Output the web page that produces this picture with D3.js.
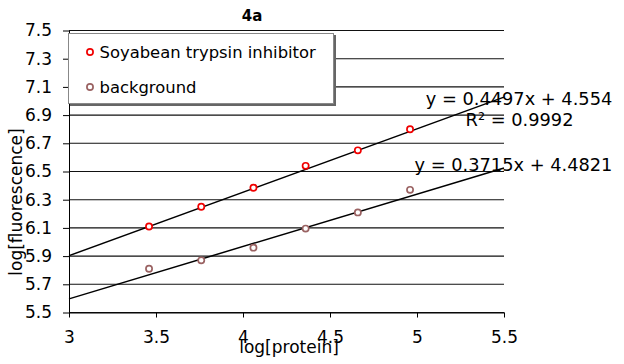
<!DOCTYPE html>
<html>
<head>
<meta charset="utf-8">
<script src="https://cdn.jsdelivr.net/npm/d3@7/dist/d3.min.js"></script>
<style>
  html, body { margin: 0; padding: 0; background: #fff; }
  svg { display: block; font-family: "DejaVu Sans", Verdana, sans-serif; }
</style>
</head>
<body>
<svg id="chart" width="624" height="364"></svg>
<script>
// log[protein] positions of the six dilutions
const logProtein = [3.46, 3.76, 4.06, 4.36, 4.66, 4.96];
// log[fluorescence] readings
const sbtiValues = [6.11, 6.25, 6.385, 6.54, 6.65, 6.80];
const backgroundValues = [5.81, 5.87, 5.96, 6.095, 6.21, 6.37];
// linear trend fits (slope, intercept)
const sbtiFit = [0.4497, 4.554];
const backgroundFit = [0.3715, 4.4821];
const seriesNames = ["Soyabean trypsin inhibitor", "background"];
const xTicks = [3, 3.5, 4, 4.5, 5, 5.5];
const yTicks = [5.5, 5.7, 5.9, 6.1, 6.3, 6.5, 6.7, 6.9, 7.1, 7.3, 7.5];

const svg = d3.select("#chart");
const plotLeft = 69, plotRight = 504, plotTop = 30.5, plotBottom = 312.5;

const x = d3.scaleLinear().domain([3, 5.5]).range([plotLeft, plotRight]);
const y = d3.scaleLinear().domain([5.5, 7.5]).range([plotBottom, plotTop]);

// horizontal gridlines
svg.append("g").selectAll("line").data(yTicks).join("line")
  .attr("x1", plotLeft).attr("x2", plotRight)
  .attr("y1", d => y(d)).attr("y2", d => y(d))
  .attr("stroke", "#111").attr("stroke-width", 1.1);

// axes
const yAxis = svg.append("g").attr("transform", `translate(${plotLeft},0)`)
  .call(d3.axisLeft(y).tickValues(yTicks).tickFormat(d3.format(".1f")).tickSizeInner(6).tickSizeOuter(0).tickPadding(11));
const xAxis = svg.append("g").attr("transform", `translate(0,${plotBottom})`)
  .call(d3.axisBottom(x).tickValues(xTicks).tickFormat(d => String(d)).tickSizeInner(5).tickSizeOuter(0).tickPadding(13));
[yAxis, xAxis].forEach(g => {
  g.selectAll("path,line").attr("stroke", "#000");
  g.selectAll("text").attr("font-size", 17).attr("fill", "#000")
    .attr("font-family", "'DejaVu Sans', Verdana, sans-serif");
});

// trend lines from the fitted equations
const fits = [sbtiFit, backgroundFit];
svg.append("g").selectAll("line").data(fits).join("line")
  .attr("x1", x(3)).attr("y1", d => y(d[0] * 3 + d[1]))
  .attr("x2", x(5.5)).attr("y2", d => y(d[0] * 5.5 + d[1]))
  .attr("stroke", "#000").attr("stroke-width", 1.5);

// data points
const colors = ["#f00000", "#9a6262"];
[sbtiValues, backgroundValues].forEach((vals, i) => {
  svg.append("g").selectAll("circle").data(vals).join("circle")
    .attr("cx", (d, j) => x(logProtein[j])).attr("cy", d => y(d))
    .attr("r", 3.1).attr("fill", "#fff")
    .attr("stroke", colors[i]).attr("stroke-width", 1.7);
});

// equation labels
const fmtEq = f => `y = ${f[0]}x + ${f[1]}`;
svg.append("text").attr("x", 519).attr("y", 105).attr("text-anchor", "middle")
  .attr("font-size", 17.8).text(fmtEq(sbtiFit));
svg.append("text").attr("x", 519.5).attr("y", 126).attr("text-anchor", "middle")
  .attr("font-size", 17.8).text("R² = 0.9992");
svg.append("text").attr("x", 513.5).attr("y", 171).attr("text-anchor", "middle")
  .attr("font-size", 17.8).text(fmtEq(backgroundFit));

// legend
const lg = svg.append("g");
lg.append("rect").attr("x", 70).attr("y", 35).attr("width", 266).attr("height", 71).attr("fill", "#666");
lg.append("rect").attr("x", 68.5).attr("y", 33.5).attr("width", 265).attr("height", 70)
  .attr("fill", "#fff").attr("stroke", "#888").attr("stroke-width", 1);
seriesNames.forEach((name, i) => {
  const cy = 52 + i * 35;
  lg.append("circle").attr("cx", 90).attr("cy", cy).attr("r", 3.1)
    .attr("fill", "#fff").attr("stroke", colors[i]).attr("stroke-width", 1.7);
  lg.append("text").attr("x", 99.5).attr("y", cy + 5.8).attr("font-size", 16.4).text(name);
});

// title and axis titles
svg.append("text").attr("x", 252).attr("y", 20.5).attr("text-anchor", "middle")
  .attr("font-size", 15).attr("font-weight", "bold").text("4a");
svg.append("text").attr("x", 289).attr("y", 352.5).attr("text-anchor", "middle")
  .attr("font-size", 17).text("log[protein]");
svg.append("text").attr("transform", "translate(21.5,202) rotate(-90)").attr("text-anchor", "middle")
  .attr("font-size", 17).text("log[fluorescence]");
</script>
</body>
</html>
